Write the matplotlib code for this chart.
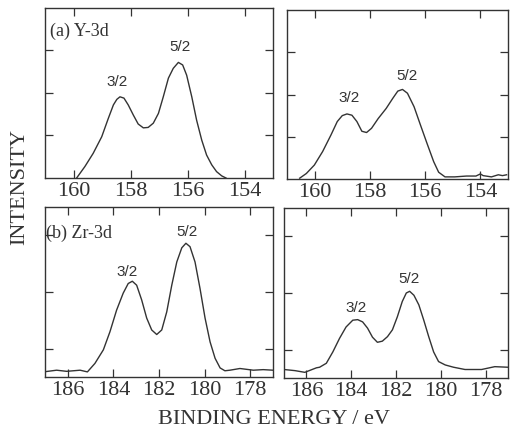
import matplotlib
matplotlib.use("Agg")
import matplotlib.pyplot as plt

# ---------------- data ----------------
# (a) Y-3d, left spectrum
y3d_left_x = [159.89, 159.60, 159.31, 159.01, 158.78, 158.60, 158.48, 158.37, 158.23,
              158.08, 157.90, 157.73, 157.55, 157.38, 157.20, 157.02, 156.85, 156.67,
              156.50, 156.32, 156.17, 156.03, 155.85, 155.68, 155.50, 155.33, 155.15,
              154.98, 154.80, 154.65]
y3d_left_y = [0.00, 0.27, 0.58, 0.97, 1.40, 1.72, 1.85, 1.91, 1.88,
              1.72, 1.48, 1.27, 1.18, 1.19, 1.29, 1.52, 1.91, 2.35,
              2.58, 2.72, 2.66, 2.42, 1.91, 1.36, 0.89, 0.54, 0.31,
              0.15, 0.05, 0.00]

# (a) Y-3d, right spectrum
y3d_right_x = [160.54, 160.30, 160.01, 159.71, 159.41, 159.18, 159.00, 158.83, 158.65,
               158.47, 158.29, 158.12, 157.94, 157.70, 157.41, 157.17, 156.99, 156.82,
               156.64, 156.40, 156.17, 155.93, 155.69, 155.51, 155.28, 154.93, 154.50,
               154.16, 154.00, 153.90, 153.60, 153.35, 153.20, 153.05]
y3d_right_y = [0.02, 0.13, 0.33, 0.65, 1.04, 1.36, 1.50, 1.54, 1.51,
               1.36, 1.13, 1.10, 1.20, 1.43, 1.67, 1.91, 2.08, 2.12,
               2.03, 1.71, 1.28, 0.84, 0.41, 0.16, 0.05, 0.05, 0.07,
               0.07, 0.12, 0.08, 0.05, 0.10, 0.08, 0.10]

# (b) Zr-3d, left spectrum
zr3d_left_x = [187.07, 186.49, 186.05, 185.46, 185.14, 184.81, 184.44, 184.15, 183.86,
               183.57, 183.35, 183.17, 182.98, 182.76, 182.54, 182.32, 182.10, 181.88,
               181.66, 181.44, 181.22, 181.00, 180.82, 180.64, 180.42, 180.20, 179.98,
               179.76, 179.54, 179.32, 179.11, 178.89, 178.45, 177.86, 177.43, 177.00]
zr3d_left_y = [0.09, 0.12, 0.10, 0.12, 0.09, 0.24, 0.48, 0.80, 1.18,
               1.48, 1.65, 1.69, 1.62, 1.36, 1.04, 0.83, 0.75, 0.83,
               1.15, 1.62, 2.03, 2.28, 2.36, 2.30, 2.03, 1.56, 1.04,
               0.62, 0.33, 0.16, 0.11, 0.12, 0.15, 0.12, 0.13, 0.12]

# (b) Zr-3d, right spectrum
zr3d_right_x = [187.00, 186.51, 186.07, 185.55, 185.41, 185.11, 184.82, 184.52, 184.23,
                183.93, 183.71, 183.49, 183.27, 183.05, 182.83, 182.61, 182.38, 182.16,
                181.94, 181.72, 181.54, 181.39, 181.20, 180.98, 180.76, 180.54, 180.32,
                180.10, 179.80, 179.43, 178.92, 178.18, 177.59, 177.00]
zr3d_right_y = [0.15, 0.13, 0.10, 0.18, 0.19, 0.26, 0.46, 0.70, 0.90,
                1.02, 1.03, 0.99, 0.88, 0.72, 0.63, 0.65, 0.73, 0.85,
                1.08, 1.35, 1.50, 1.53, 1.46, 1.29, 1.02, 0.73, 0.46,
                0.29, 0.23, 0.19, 0.15, 0.15, 0.20, 0.19]

y_xticks = [160, 158, 156, 154]
zr_xticks = [186, 184, 182, 180, 178]
y_yticks = [1, 2, 3]
zr_yticks = [0.5, 1.5, 2.5]

# ---------------- figure ----------------
W, H = 511, 432
fig = plt.figure(figsize=(W / 100, H / 100), dpi=100)
fig.patch.set_facecolor("white")

serif = ["Liberation Serif", "DejaVu Serif"]
sans = ["Liberation Sans", "DejaVu Sans"]
ink = "#333333"


def box(l, t, r, b):
    return [l / W, 1 - b / H, (r - l) / W, (b - t) / H]


def style(ax, xlim, ylim, xticks, yticks):
    ax.set_xlim(*xlim)
    ax.set_ylim(*ylim)
    ax.set_xticks(xticks)
    ax.set_yticks(yticks)
    ax.set_yticklabels([])
    ax.tick_params(axis="both", direction="in", length=6, width=0.9, color=ink,
                   top=True, right=True, labelsize=16, labelcolor=ink, pad=3)
    for lab in ax.get_xticklabels():
        lab.set_family(serif)
    for s in ax.spines.values():
        s.set_color(ink)
        s.set_linewidth(1.0)


panels = [
    (box(45, 8, 273, 178), y3d_left_x, y3d_left_y, (161, 153), (0, 4), y_xticks, y_yticks),
    (box(287, 10, 508, 179), y3d_right_x, y3d_right_y, (161, 153), (0, 4), y_xticks, y_yticks),
    (box(45, 207, 273, 377), zr3d_left_x, zr3d_left_y, (187, 177), (0, 3), zr_xticks, zr_yticks),
    (box(284, 208, 508, 378), zr3d_right_x, zr3d_right_y, (187, 177), (0, 3), zr_xticks, zr_yticks),
]

axes = []
for rect, xs, ys, xl, yl, xt, yt in panels:
    ax = fig.add_axes(rect)
    ax.plot(xs, ys, color=ink, lw=1.0, solid_joinstyle="round")
    style(ax, xl, yl, xt, yt)
    axes.append(ax)

lab_kw = dict(fontsize=11, family=sans, color=ink, ha="center", va="center")
# (a) left
axes[0].text(160.82, 3.44, "(a) Y-3d", fontsize=13, family=serif, color=ink, ha="left", va="center")
axes[0].text(158.48, 2.27, "3/2", **lab_kw)
axes[0].text(156.26, 3.09, "5/2", **lab_kw)
# (a) right
axes[1].text(158.77, 1.91, "3/2", **lab_kw)
axes[1].text(156.66, 2.44, "5/2", **lab_kw)
# (b) left
axes[2].text(186.95, 2.53, "(b) Zr-3d", fontsize=13, family=serif, color=ink, ha="left", va="center")
axes[2].text(183.42, 1.86, "3/2", **lab_kw)
axes[2].text(180.79, 2.56, "5/2", **lab_kw)
# (b) right
axes[3].text(183.78, 1.23, "3/2", **lab_kw)
axes[3].text(181.42, 1.74, "5/2", **lab_kw)

fig.text(20 / W, 1 - 187 / H, "INTENSITY", rotation=90, fontsize=16, family=serif,
         color=ink, ha="center", va="center")
fig.text(274 / W, 1 - 419 / H, "BINDING ENERGY / eV", fontsize=16, family=serif,
         color=ink, ha="center", va="center")

fig.savefig("out.png", dpi=100, facecolor="white")
